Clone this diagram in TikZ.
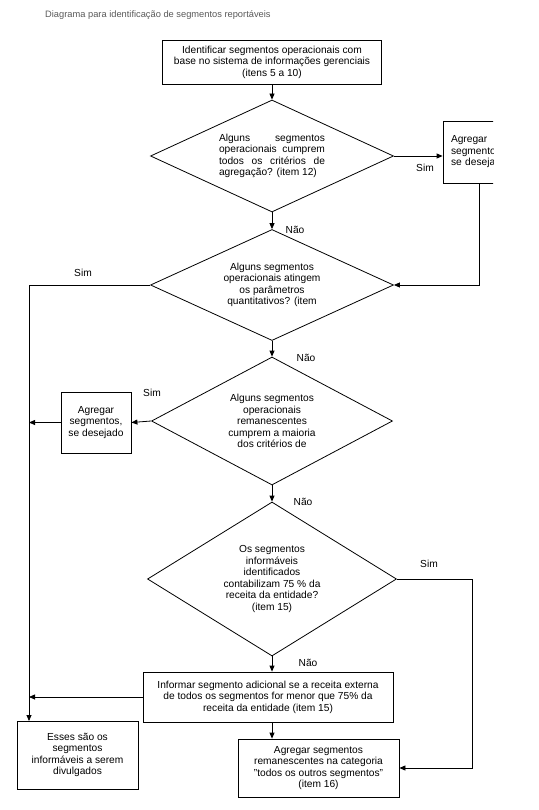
\documentclass[tikz,border=0pt]{standalone}
\usepackage{fontspec}
\setmainfont{Liberation Sans}
\usetikzlibrary{shapes.geometric,arrows.meta}
\hyphenpenalty=10000
\exhyphenpenalty=10000
\tolerance=9999

\tikzset{
	procbox/.style={draw,line width=0.8pt,inner sep=2pt,align=center},
	decision/.style={draw,diamond,line width=0.8pt,inner sep=0pt,align=center},
	flowarrow/.style={-{Triangle[length=6pt,width=5pt]},line width=0.8pt},
	answer/.style={inner sep=0pt},
}

\begin{document}
\begin{tikzpicture}[x=1pt,y=-1pt,font=\fontsize{10.2}{11.5}\selectfont]
	\useasboundingbox (0,0) rectangle (538,810);
	\node[anchor=base west,inner sep=0pt,text=black!65,font=\fontsize{9.3}{11}\selectfont] (title) at (45,18) {Diagrama para identificação de segmentos reportáveis};

	% etapas e perguntas
	\node[procbox,minimum width=219pt,minimum height=44pt] (ident) at (272,62) {Identificar segmentos operacionais com\\base no sistema de informações gerenciais\\(itens 5 a 10)};
	\node[decision,minimum width=243pt,minimum height=112pt,aspect=2.2,text width=106pt,align=justify] (agreg) at (272,156) {Alguns segmentos operacionais cumprem todos os critérios de agregação? (item 12)};
	\begin{scope}
		\clip (0,0) rectangle (493,810);
		\node[procbox,minimum width=72pt,minimum height=62pt,text width=56pt,inner xsep=8pt,align=left] (aggsim) at (479,152) {Agregar\\segmentos,\\se desejado};
	\end{scope}
	\node[decision,minimum width=243pt,minimum height=111pt,aspect=2.2] (quant) at (272,285) {Alguns segmentos\\operacionais atingem\\os parâmetros\\quantitativos? (item};
	\node[decision,minimum width=241pt,minimum height=128pt,aspect=1.9] (maioria) at (272,421) {Alguns segmentos\\operacionais\\remanescentes\\cumprem a maioria\\dos critérios de};
	\node[procbox,minimum width=70pt,minimum height=61pt] (aggnao) at (96,422.5) {Agregar\\segmentos,\\se desejado};
	\node[decision,minimum width=249pt,minimum height=154pt,aspect=1.6] (receita) at (272,579) {Os segmentos\\informáveis\\identificados\\contabilizam 75 \% da\\receita da entidade?\\(item 15)};
	\node[procbox,minimum width=250pt,minimum height=50pt] (info) at (268,697) {Informar segmento adicional se a receita externa\\de todos os segmentos for menor que 75\% da\\receita da entidade (item 15)};
	\node[procbox,minimum width=121pt,minimum height=68pt] (final) at (77.5,755) {Esses são os\\segmentos\\informáveis a serem\\divulgados};
	\node[procbox,minimum width=161pt,minimum height=58pt] (outros) at (318.5,768) {Agregar segmentos\\remanescentes na categoria\\"todos os outros segmentos"\\(item 16)};

	\coordinate (bus) at (29,721);
	\coordinate (rgt) at (472,579);

	% ligacoes
	\draw[flowarrow] (ident.south) -- (agreg.north);
	\draw[flowarrow] (agreg.east) -- (agreg.east -| aggsim.west);
	\draw[flowarrow] (aggsim.south) |- (quant.east);
	\draw[flowarrow] (agreg.south) -- (quant.north);
	\draw[flowarrow] (quant.west) -| (bus);
	\draw[flowarrow] (quant.south) -- (maioria.north);
	\draw[flowarrow] (maioria.west) -- (aggnao.east);
	\draw[flowarrow] (aggnao.west) -- (aggnao.west -| bus);
	\draw[flowarrow] (maioria.south) -- (receita.north);
	\draw[flowarrow] (receita.east) -- (rgt) |- (outros.east);
	\draw[flowarrow] (receita.south) -- (receita.south |- info.north);
	\draw[flowarrow] (info.west) -- (info.west -| bus);
	\draw[flowarrow] (receita.south |- info.south) -- (receita.south |- outros.north);

	% respostas
	\node[answer] (sim1) at (425,168) {Sim};
	\node[answer] (nao1) at (295,230) {Não};
	\node[answer] (sim2) at (83,273) {Sim};
	\node[answer] (nao2) at (306,358) {Não};
	\node[answer] (sim3) at (152,393) {Sim};
	\node[answer] (nao3) at (303,502) {Não};
	\node[answer] (sim4) at (429,564) {Sim};
	\node[answer] (nao4) at (308,663) {Não};
\end{tikzpicture}
\end{document}
